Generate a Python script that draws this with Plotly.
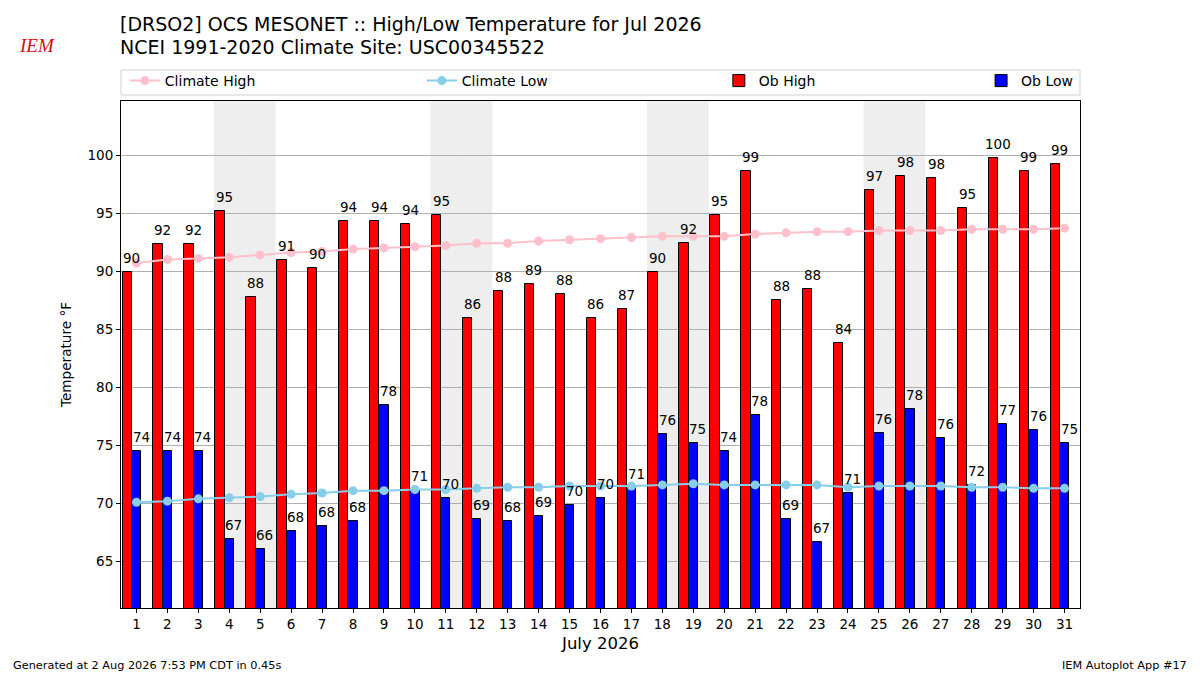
import pandas as pd
import plotly.graph_objects as go

# ---------------- data ----------------
days = list(range(1, 32))
ob_high = [89.9, 92.3, 92.3, 95.2, 87.8, 91.0, 90.3, 94.3, 94.3, 94.1,
           94.8, 86.0, 88.3, 88.9, 88.0, 86.0, 86.7, 89.9, 92.4, 94.8,
           98.6, 87.5, 88.5, 83.8, 97.0, 98.2, 98.0, 95.4, 99.7, 98.6, 99.2]
ob_low = [74.5, 74.5, 74.5, 66.9, 66.1, 67.6, 68.1, 68.5, 78.5, 71.2,
          70.5, 68.7, 68.5, 68.9, 69.9, 70.5, 71.3, 76.0, 75.2, 74.5,
          77.6, 68.7, 66.7, 70.9, 76.1, 78.1, 75.6, 71.6, 76.8, 76.3, 75.2]
clim_high = [90.7, 91.0, 91.1, 91.2, 91.4, 91.6, 91.7, 91.9, 92.0, 92.1,
             92.2, 92.4, 92.4, 92.6, 92.7, 92.8, 92.9, 93.0, 93.0, 93.0,
             93.2, 93.3, 93.4, 93.4, 93.5, 93.5, 93.5, 93.6, 93.6, 93.6, 93.7]
clim_low = [70.1, 70.2, 70.4, 70.5, 70.6, 70.8, 70.9, 71.1, 71.1, 71.2,
            71.2, 71.3, 71.4, 71.4, 71.5, 71.5, 71.5, 71.6, 71.7, 71.6,
            71.6, 71.6, 71.6, 71.4, 71.5, 71.5, 71.5, 71.4, 71.4, 71.3, 71.3]
month_start = "2026-07-01"
yticks = [65, 70, 75, 80, 85, 90, 95, 100]

title1 = "[DRSO2] OCS MESONET :: High/Low Temperature for Jul 2026"
title2 = "NCEI 1991-2020 Climate Site: USC00345522"
footer_left = "Generated at 2 Aug 2026 7:53 PM CDT in 0.45s"
footer_right = "IEM Autoplot App #17"

FONT = "DejaVu Sans"
HIGH_OFF = -0.3
BAR_W = 0.3

dates = pd.date_range(month_start, periods=len(days), freq="D")
weekend = [d for d, dt in zip(days, dates) if dt.dayofweek >= 5]

fig = go.Figure()

fig.add_trace(go.Bar(
    x=[d + HIGH_OFF for d in days], y=ob_high, width=BAR_W, name="Ob High",
    marker=dict(color="red", line=dict(color="black", width=1)),
    legend="legend", legendrank=3))
fig.add_trace(go.Bar(
    x=days, y=ob_low, width=BAR_W, name="Ob Low",
    marker=dict(color="blue", line=dict(color="black", width=1)),
    legend="legend2", legendrank=4))
fig.add_trace(go.Scatter(
    x=days, y=clim_high, mode="lines+markers", name="Climate High",
    line=dict(color="pink", width=2), marker=dict(color="pink", size=9),
    legend="legend", legendrank=1))
fig.add_trace(go.Scatter(
    x=days, y=clim_low, mode="lines+markers", name="Climate Low",
    line=dict(color="skyblue", width=2), marker=dict(color="skyblue", size=9),
    legend="legend", legendrank=2))

LBL = 13.5
annotations = []
for d, v in zip(days, ob_high):
    annotations.append(dict(x=d - 0.15, y=v, text=str(round(v)), showarrow=False,
                            xref="x", yref="y", yanchor="bottom", yshift=4,
                            font=dict(family=FONT, size=LBL, color="black")))
for d, v in zip(days, ob_low):
    annotations.append(dict(x=d + 0.15, y=v, text=str(round(v)), showarrow=False,
                            xref="x", yref="y", yanchor="bottom", yshift=4,
                            font=dict(family=FONT, size=LBL, color="black")))

# titles / footer (paper coords computed from pixel positions)
PLOT_TOP, PLOT_BOT, PLOT_L, PLOT_R = 101, 608, 121, 1080
PH = PLOT_BOT - PLOT_TOP
PW = PLOT_R - PLOT_L


def py(px):
    return (PLOT_BOT - px) / PH


def pxx(px):
    return (px - PLOT_L) / PW


annotations += [
    dict(text=title1, x=pxx(118), y=py(24), xref="paper", yref="paper",
         xanchor="left", yanchor="middle", showarrow=False,
         font=dict(family=FONT, size=19, color="black")),
    dict(text=title2, x=pxx(118), y=py(47), xref="paper", yref="paper",
         xanchor="left", yanchor="middle", showarrow=False,
         font=dict(family=FONT, size=19, color="black")),
    dict(text=footer_left, x=pxx(11), y=py(665), xref="paper", yref="paper",
         xanchor="left", yanchor="middle", showarrow=False,
         font=dict(family=FONT, size=11.3, color="black")),
    dict(text=footer_right, x=pxx(1189), y=py(665), xref="paper", yref="paper",
         xanchor="right", yanchor="middle", showarrow=False,
         font=dict(family=FONT, size=11.3, color="black")),
    dict(text="<i>IEM</i>", x=pxx(37), y=py(45), xref="paper", yref="paper",
         xanchor="center", yanchor="middle", showarrow=False,
         font=dict(family="Liberation Serif", size=19, color="#d01010")),
]

shapes = []
for d in weekend:
    shapes.append(dict(type="rect", xref="x", yref="paper", x0=d - 0.5, x1=d + 0.5,
                       y0=0, y1=1, fillcolor="#eeeeee", line=dict(width=0),
                       layer="below"))
# legend frame
shapes.append(dict(type="rect", xref="paper", yref="paper", x0=0, x1=1,
                   y0=py(95), y1=py(70), fillcolor="white",
                   line=dict(color="#d0d0d0", width=1), layer="above"))

fig.update_layout(
    width=1200, height=675,
    margin=dict(l=PLOT_L, r=1200 - PLOT_R, t=PLOT_TOP, b=675 - PLOT_BOT, autoexpand=False),
    paper_bgcolor="white", plot_bgcolor="white",
    font=dict(family=FONT, size=13.5, color="black"),
    barmode="overlay", bargap=0,
    showlegend=True,
    legend=dict(orientation="h", x=0.004, xanchor="left", y=py(81), yanchor="middle",
                bgcolor="rgba(0,0,0,0)", borderwidth=0, entrywidth=252,
                font=dict(family=FONT, size=14), traceorder="normal"),
    legend2=dict(orientation="h", x=0.998, xanchor="right", y=py(81), yanchor="middle",
                 bgcolor="rgba(0,0,0,0)", borderwidth=0,
                 font=dict(family=FONT, size=14)),
    annotations=annotations,
    shapes=shapes,
    xaxis=dict(range=[0.5, 31.5], tickmode="array", tickvals=days,
               ticktext=[str(d) for d in days], showgrid=False, zeroline=False,
               showline=True, linecolor="black", linewidth=1, mirror=True,
               ticks="outside", ticklen=4, tickcolor="black",
               tickfont=dict(family=FONT, size=13.5),
               title=dict(text="July 2026", font=dict(family=FONT, size=16.5), standoff=6)),
    yaxis=dict(range=[61.0, 104.65], tickmode="array", tickvals=yticks,
               showgrid=True, gridcolor="#b0b0b0", gridwidth=1, zeroline=False,
               showline=True, linecolor="black", linewidth=1, mirror=True,
               ticks="outside", ticklen=4, tickcolor="black",
               tickfont=dict(family=FONT, size=13.5),
               title=dict(text="Temperature °F", font=dict(family=FONT, size=13.6), standoff=12)),
)

fig.write_html("out.html", config={"displayModeBar": False},
               post_script="document.body.style.margin='0';document.body.style.overflow='hidden';")
